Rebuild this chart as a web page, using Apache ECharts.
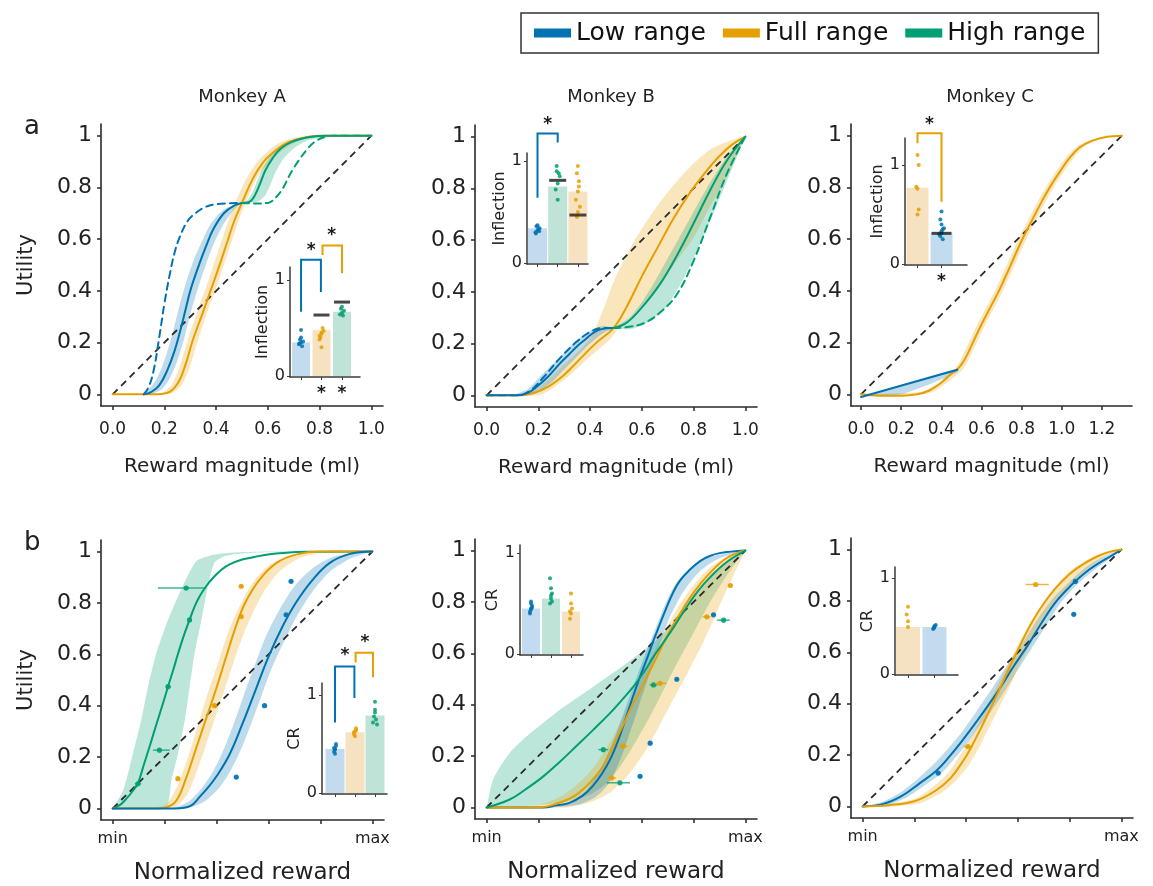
<!DOCTYPE html>
<html>
<head>
<meta charset="utf-8">
<script src="https://cdn.jsdelivr.net/npm/echarts@6/dist/echarts.min.js"></script>
<style>
html,body{margin:0;padding:0;background:#fff;}
#chart{width:1153px;height:886px;}
</style>
</head>
<body>
<div id="chart"></div>
<script>
// ---------- colours ----------
const COL = {low:'#0072B2', full:'#E69F00', high:'#009E73'};
const FILL = {low:'rgba(0,114,178,0.26)', full:'rgba(230,159,0,0.26)', high:'rgba(0,158,115,0.26)'};
const BARFILL = {low:'#c3dbee', full:'#f6e2c1', high:'#bfe3d6'};
const FONT = "'DejaVu Sans', sans-serif";

// ---------- axis ticks ----------
const unitTicks = [0,0.2,0.4,0.6,0.8,1];
const monkeyCTicks = [0,0.2,0.4,0.6,0.8,1.0,1.2];
const normLabels = [0,1];

// ---------- Monkey A, reward magnitude ----------
const diagA = [[0,0],[1,1]];
const lowA = [[0.12,0],[0.15,0.01],[0.18,0.035],[0.21,0.09],[0.24,0.17],[0.265,0.26],[0.28,0.32],[0.30,0.40],[0.33,0.49],[0.36,0.57],[0.39,0.64],[0.43,0.70],[0.47,0.73],[0.50,0.74]];
const lowDashA = [[0.12,0],[0.14,0.03],[0.16,0.10],[0.18,0.22],[0.20,0.35],[0.22,0.46],[0.24,0.55],[0.26,0.61],[0.29,0.67],[0.32,0.70],[0.36,0.725],[0.40,0.735],[0.50,0.74]];
const lowBandA_l = [[0.11,0],[0.14,0.02],[0.17,0.06],[0.20,0.13],[0.23,0.23],[0.255,0.33],[0.28,0.42],[0.31,0.51],[0.34,0.58],[0.38,0.66],[0.43,0.715],[0.50,0.74]];
const lowBandA_r = [[0.13,0],[0.16,0.005],[0.19,0.02],[0.22,0.06],[0.25,0.13],[0.275,0.21],[0.30,0.31],[0.33,0.41],[0.36,0.50],[0.39,0.58],[0.43,0.66],[0.47,0.715],[0.50,0.74]];
const fullA = [[0,0],[0.16,0],[0.21,0.005],[0.25,0.04],[0.28,0.11],[0.31,0.21],[0.35,0.32],[0.38,0.405],[0.41,0.49],[0.44,0.58],[0.47,0.67],[0.50,0.74],[0.54,0.83],[0.58,0.895],[0.62,0.935],[0.67,0.97],[0.73,0.99],[0.80,1],[1,1]];
const fullBandA_l = [[0.14,0],[0.19,0.005],[0.23,0.04],[0.26,0.11],[0.29,0.21],[0.33,0.33],[0.36,0.41],[0.39,0.50],[0.42,0.59],[0.45,0.68],[0.48,0.755],[0.52,0.84],[0.56,0.90],[0.60,0.94],[0.65,0.975],[0.71,0.993],[0.78,1]];
const fullBandA_r = [[0.18,0],[0.23,0.005],[0.27,0.04],[0.30,0.11],[0.33,0.21],[0.37,0.33],[0.40,0.41],[0.43,0.50],[0.46,0.59],[0.49,0.68],[0.52,0.755],[0.56,0.84],[0.60,0.89],[0.64,0.93],[0.69,0.965],[0.75,0.99],[0.82,1]];
const highA = [[0.50,0.74],[0.53,0.745],[0.55,0.77],[0.57,0.815],[0.59,0.865],[0.62,0.915],[0.65,0.95],[0.69,0.975],[0.75,0.993],[0.82,1],[1,1]];
const highDashA = [[0.50,0.74],[0.55,0.738],[0.60,0.74],[0.63,0.76],[0.66,0.80],[0.68,0.84],[0.70,0.875],[0.72,0.905],[0.75,0.945],[0.78,0.975],[0.82,0.995],[0.86,1],[1,1]];
const highBandA_l = [[0.50,0.74],[0.52,0.75],[0.54,0.78],[0.56,0.83],[0.58,0.875],[0.61,0.92],[0.65,0.96],[0.70,0.985],[0.78,1]];
const highBandA_r = [[0.50,0.74],[0.56,0.745],[0.59,0.77],[0.61,0.81],[0.63,0.86],[0.66,0.91],[0.70,0.95],[0.75,0.98],[0.82,0.997]];

// ---------- Monkey B, reward magnitude ----------
const diagB = [[0,0],[1,1]];
const lowB = [[0,0],[0.12,0],[0.16,0.01],[0.19,0.03],[0.24,0.075],[0.28,0.12],[0.32,0.16],[0.35,0.19],[0.38,0.215],[0.41,0.24],[0.44,0.255],[0.49,0.26]];
const lowDashB = [[0,0],[0.12,0],[0.17,0.02],[0.22,0.07],[0.28,0.14],[0.34,0.20],[0.40,0.245],[0.45,0.26],[0.49,0.26]];
const lowBandB_l = [[0.10,0],[0.16,0.025],[0.20,0.065],[0.25,0.115],[0.30,0.165],[0.35,0.215],[0.40,0.25],[0.45,0.268],[0.49,0.26]];
const lowBandB_r = [[0.14,0],[0.20,0.015],[0.25,0.05],[0.30,0.10],[0.35,0.15],[0.40,0.20],[0.45,0.24],[0.49,0.26]];
const fullB = [[0,0],[0.12,0],[0.18,0.008],[0.24,0.035],[0.30,0.08],[0.36,0.14],[0.42,0.20],[0.49,0.26],[0.54,0.34],[0.60,0.46],[0.66,0.57],[0.72,0.68],[0.78,0.775],[0.84,0.855],[0.90,0.925],[0.95,0.97],[1,1]];
const fullBandB_l = [[0,0],[0.12,0.003],[0.20,0.03],[0.30,0.12],[0.40,0.22],[0.45,0.33],[0.50,0.46],[0.567,0.59],[0.63,0.69],[0.696,0.78],[0.774,0.87],[0.864,0.95],[0.955,0.99],[1,1]];
const fullBandB_r = [[0,0],[0.20,0],[0.30,0.06],[0.40,0.15],[0.48,0.22],[0.515,0.265],[0.593,0.34],[0.67,0.43],[0.735,0.52],[0.80,0.61],[0.864,0.73],[0.93,0.846],[1,1]];
const highB = [[0.49,0.26],[0.54,0.28],[0.60,0.34],[0.67,0.43],[0.735,0.54],[0.80,0.665],[0.865,0.795],[0.93,0.91],[1,1]];
const highDashB = [[0.49,0.26],[0.55,0.265],[0.61,0.28],[0.67,0.32],[0.735,0.39],[0.80,0.52],[0.865,0.69],[0.93,0.86],[1,1]];
const highBandB_l = [[0.49,0.26],[0.55,0.30],[0.60,0.36],[0.65,0.44],[0.70,0.53],[0.75,0.62],[0.80,0.71],[0.85,0.80],[0.90,0.88],[0.95,0.95],[1,1]];
const highBandB_r = [[0.49,0.26],[0.55,0.255],[0.60,0.27],[0.65,0.30],[0.70,0.35],[0.75,0.43],[0.80,0.53],[0.85,0.64],[0.90,0.76],[0.95,0.88],[1,1]];

// ---------- Monkey C, reward magnitude ----------
const diagC = [[0,0],[1.3,1]];
const lowC = [[0,-0.01],[0.48,0.095]];
const lowBandC_l = [[0,-0.01],[0.48,0.10]];
const lowBandC_r = [[0,-0.01],[0.2,0.0],[0.48,0.085]];
const fullC = [[0,0],[0.1,-0.005],[0.2,-0.005],[0.28,0],[0.34,0.015],[0.40,0.045],[0.45,0.08],[0.49,0.105],[0.52,0.14],[0.557,0.20],[0.60,0.27],[0.65,0.345],[0.69,0.405],[0.74,0.49],[0.78,0.56],[0.81,0.61],[0.85,0.67],[0.90,0.745],[0.94,0.80],[0.99,0.86],[1.04,0.915],[1.09,0.955],[1.15,0.98],[1.22,0.995],[1.3,1]];
const fullBandC_l = [[0,0],[0.3,0.01],[0.38,0.04],[0.43,0.075],[0.47,0.10],[0.50,0.14],[0.537,0.20],[0.58,0.27],[0.63,0.345],[0.67,0.405],[0.72,0.49],[0.76,0.56],[0.79,0.61],[0.83,0.67],[0.88,0.745],[0.92,0.80],[0.97,0.86],[1.02,0.915],[1.07,0.955],[1.13,0.98],[1.2,0.995],[1.3,1]];
const fullBandC_r = [[0,-0.005],[0.3,0],[0.36,0.01],[0.42,0.04],[0.47,0.07],[0.51,0.10],[0.54,0.14],[0.577,0.20],[0.62,0.27],[0.67,0.345],[0.71,0.405],[0.76,0.49],[0.80,0.56],[0.83,0.61],[0.87,0.67],[0.92,0.745],[0.96,0.80],[1.01,0.86],[1.06,0.915],[1.11,0.955],[1.17,0.98],[1.24,0.995],[1.3,1]];

// ---------- Monkey A, normalized reward ----------
const diagD = [[0,0],[1,1]];
const highD = [[0,0],[0.03,0.015],[0.053,0.038],[0.075,0.065],[0.097,0.098],[0.12,0.17],[0.142,0.24],[0.16,0.30],[0.18,0.365],[0.20,0.43],[0.213,0.474],[0.232,0.535],[0.251,0.60],[0.273,0.67],[0.296,0.734],[0.315,0.785],[0.335,0.826],[0.36,0.865],[0.386,0.897],[0.42,0.93],[0.45,0.95],[0.49,0.966],[0.527,0.975],[0.58,0.986],[0.63,0.992],[0.745,0.999],[1,1]];
const highBandD_l = [[0,0],[0.04,0.07],[0.078,0.214],[0.11,0.344],[0.136,0.474],[0.168,0.604],[0.213,0.734],[0.27,0.865],[0.322,0.962],[0.373,0.984],[0.45,0.995],[0.6,1],[1,1]];
const highBandD_r = [[0,0],[0.10,0],[0.206,0.005],[0.226,0.109],[0.251,0.21],[0.277,0.339],[0.296,0.47],[0.315,0.60],[0.341,0.73],[0.367,0.865],[0.392,0.956],[0.424,0.979],[0.488,0.991],[0.6,0.997],[1,1]];
const fullD = [[0,0],[0.18,0],[0.21,0.005],[0.245,0.03],[0.28,0.11],[0.32,0.23],[0.36,0.35],[0.40,0.47],[0.44,0.60],[0.475,0.71],[0.51,0.80],[0.565,0.89],[0.63,0.955],[0.705,0.988],[0.80,1],[1,1]];
const fullBandD_l = [[0.16,0],[0.21,0.02],[0.25,0.09],[0.29,0.20],[0.33,0.33],[0.37,0.46],[0.41,0.58],[0.45,0.70],[0.49,0.79],[0.54,0.88],[0.60,0.945],[0.68,0.985],[0.78,1]];
const fullBandD_r = [[0.20,0],[0.25,0.01],[0.29,0.06],[0.33,0.16],[0.37,0.28],[0.41,0.40],[0.45,0.52],[0.49,0.64],[0.53,0.74],[0.58,0.84],[0.64,0.92],[0.72,0.975],[0.82,1]];
const lowD = [[0,0],[0.24,0],[0.30,0.01],[0.335,0.045],[0.37,0.085],[0.40,0.125],[0.45,0.21],[0.50,0.33],[0.55,0.46],[0.60,0.59],[0.655,0.71],[0.705,0.80],[0.77,0.89],[0.835,0.955],[0.91,0.99],[1,1]];
const lowBandD_l = [[0,0],[0.22,0],[0.29,0.025],[0.34,0.075],[0.39,0.15],[0.43,0.235],[0.47,0.34],[0.51,0.455],[0.55,0.565],[0.59,0.67],[0.64,0.77],[0.70,0.865],[0.77,0.935],[0.85,0.98],[1,1]];
const lowBandD_r = [[0,0],[0.28,0],[0.35,0.025],[0.41,0.08],[0.45,0.14],[0.49,0.22],[0.53,0.32],[0.57,0.43],[0.61,0.54],[0.66,0.65],[0.71,0.75],[0.77,0.845],[0.84,0.925],[0.92,0.975],[1,1]];
// choice points: [x, utility, x low, x high]
const markD_high = [[0.097,0.096,0.085,0.11],[0.18,0.227,0.155,0.22],[0.213,0.474,0.205,0.225],[0.296,0.734,0.29,0.305],[0.283,0.858,0.174,0.36]];
const markD_full = [[0.251,0.116,0.245,0.26],[0.392,0.40,0.385,0.40],[0.495,0.747,0.488,0.503],[0.495,0.865,0.488,0.503]];
const markD_low = [[0.476,0.122,0.47,0.483],[0.585,0.40,0.578,0.592],[0.668,0.754,0.66,0.675],[0.687,0.884,0.68,0.695]];

// ---------- Monkey B, normalized reward ----------
const diagE = [[0,0],[1,1]];
const highE = [[0,0],[0.089,0.031],[0.15,0.07],[0.218,0.12],[0.28,0.175],[0.348,0.24],[0.41,0.30],[0.477,0.367],[0.52,0.415],[0.567,0.47],[0.61,0.53],[0.645,0.587],[0.685,0.645],[0.722,0.70],[0.76,0.76],[0.80,0.82],[0.84,0.87],[0.877,0.91],[0.915,0.945],[0.955,0.974],[1,1]];
const highBandE_l = [[0,0],[0.025,0.109],[0.089,0.212],[0.154,0.276],[0.283,0.38],[0.412,0.47],[0.541,0.561],[0.67,0.664],[0.774,0.78],[0.877,0.91],[0.94,0.97],[1,1]];
const highBandE_r = [[0,0],[0.15,0.005],[0.30,0.02],[0.40,0.05],[0.47,0.10],[0.53,0.18],[0.59,0.28],[0.65,0.39],[0.72,0.53],[0.80,0.68],[0.87,0.81],[0.94,0.92],[1,1]];
const fullE = [[0,0],[0.2,0],[0.28,0.018],[0.34,0.045],[0.386,0.083],[0.42,0.12],[0.45,0.16],[0.475,0.21],[0.50,0.264],[0.527,0.32],[0.554,0.38],[0.59,0.45],[0.62,0.51],[0.65,0.57],[0.683,0.638],[0.715,0.70],[0.748,0.755],[0.785,0.815],[0.826,0.87],[0.865,0.915],[0.90,0.95],[0.935,0.975],[0.968,0.99],[1,1]];
const fullBandE_l = [[0,0],[0.2,0.01],[0.3,0.05],[0.4,0.14],[0.48,0.26],[0.55,0.40],[0.62,0.55],[0.70,0.71],[0.78,0.84],[0.87,0.94],[1,1]];
const fullBandE_r = [[0,0],[0.3,0],[0.4,0.02],[0.48,0.06],[0.55,0.13],[0.62,0.23],[0.70,0.38],[0.78,0.53],[0.85,0.67],[0.92,0.83],[1,1]];
const lowE = [[0,0],[0.22,0],[0.27,0.008],[0.32,0.018],[0.37,0.045],[0.41,0.083],[0.445,0.13],[0.477,0.186],[0.51,0.265],[0.54,0.354],[0.565,0.43],[0.593,0.509],[0.62,0.58],[0.645,0.65],[0.67,0.715],[0.696,0.78],[0.72,0.835],[0.748,0.884],[0.785,0.925],[0.826,0.96],[0.86,0.978],[0.90,0.99],[1,1]];
const lowBandE_l = [[0,0],[0.2,0],[0.3,0.012],[0.38,0.06],[0.44,0.15],[0.49,0.26],[0.53,0.37],[0.57,0.48],[0.61,0.59],[0.65,0.69],[0.69,0.79],[0.73,0.87],[0.79,0.935],[0.86,0.975],[1,1]];
const lowBandE_r = [[0,0],[0.25,0],[0.35,0.01],[0.42,0.04],[0.47,0.09],[0.51,0.17],[0.55,0.28],[0.59,0.40],[0.63,0.52],[0.67,0.64],[0.71,0.745],[0.76,0.84],[0.82,0.915],[0.89,0.965],[1,1]];
const markE_low = [[0.593,0.121,0.587,0.6],[0.632,0.25,0.625,0.64],[0.735,0.499,0.728,0.742],[0.877,0.75,0.87,0.884]];
const markE_high = [[0.515,0.096,0.464,0.554],[0.451,0.225,0.432,0.47],[0.645,0.477,0.63,0.66],[0.916,0.729,0.89,0.94]];
const markE_full = [[0.483,0.115,0.47,0.5],[0.528,0.238,0.505,0.545],[0.67,0.483,0.65,0.695],[0.851,0.742,0.835,0.865],[0.942,0.864,0.935,0.95]];

// ---------- Monkey C, normalized reward ----------
const diagF = [[0,0],[1,1]];
const lowF = [[0,0],[0.08,0.01],[0.15,0.04],[0.22,0.09],[0.286,0.14],[0.34,0.20],[0.388,0.26],[0.44,0.33],[0.49,0.40],[0.54,0.475],[0.58,0.54],[0.64,0.63],[0.695,0.72],[0.75,0.80],[0.81,0.865],[0.86,0.91],[0.91,0.945],[0.96,0.975],[1,1]];
const lowBandF_l = [[0,0],[0.07,0.015],[0.14,0.05],[0.21,0.105],[0.27,0.16],[0.33,0.225],[0.38,0.285],[0.43,0.355],[0.48,0.43],[0.53,0.505],[0.57,0.565],[0.63,0.655],[0.68,0.735],[0.74,0.815],[0.80,0.875],[0.85,0.92],[0.90,0.955],[0.95,0.98],[1,1]];
const lowBandF_r = [[0,0],[0.09,0.005],[0.16,0.03],[0.23,0.075],[0.30,0.125],[0.35,0.18],[0.40,0.24],[0.45,0.31],[0.50,0.375],[0.55,0.45],[0.59,0.515],[0.65,0.61],[0.71,0.705],[0.76,0.785],[0.82,0.855],[0.87,0.90],[0.92,0.94],[0.97,0.975],[1,1]];
const fullF = [[0,0],[0.1,0.005],[0.2,0.02],[0.28,0.06],[0.34,0.11],[0.39,0.18],[0.414,0.22],[0.46,0.31],[0.503,0.40],[0.54,0.48],[0.567,0.54],[0.61,0.63],[0.656,0.72],[0.70,0.79],[0.746,0.85],[0.80,0.905],[0.848,0.94],[0.90,0.97],[0.95,0.99],[1,1]];
const fullBandF_l = [[0,0],[0.1,0.01],[0.2,0.03],[0.27,0.075],[0.33,0.13],[0.38,0.205],[0.42,0.27],[0.46,0.35],[0.50,0.43],[0.54,0.51],[0.59,0.61],[0.64,0.70],[0.69,0.78],[0.74,0.85],[0.80,0.915],[0.86,0.955],[0.92,0.985],[1,1]];
const fullBandF_r = [[0,0],[0.12,0],[0.22,0.012],[0.30,0.05],[0.36,0.10],[0.41,0.16],[0.45,0.23],[0.49,0.31],[0.53,0.39],[0.57,0.47],[0.61,0.56],[0.66,0.65],[0.71,0.74],[0.76,0.81],[0.82,0.88],[0.88,0.935],[0.94,0.975],[1,1]];
const markF_full = [[0.669,0.864,0.63,0.72],[0.407,0.233,0.39,0.425]];
const markF_low = [[0.292,0.13,0.285,0.3],[0.816,0.748,0.81,0.823],[0.822,0.876,0.815,0.83]];

// ---------- insets: inflection points and CR ----------
const inflA_groups = ['low','full','high'];
const inflA_bars = [0.35,0.48,0.67];
const inflA_dots_low = [[0.9,0.33],[1.0,0.35],[1.1,0.36],[0.95,0.38],[1.05,0.31],[1.0,0.40],[0.92,0.34],[1.0,0.48]];
const inflA_dots_full = [[1.9,0.42],[2.0,0.45],[2.1,0.47],[1.95,0.40],[2.05,0.50],[2.0,0.44],[1.9,0.38],[2.0,0.30]];
const inflA_dots_high = [[2.9,0.64],[3.0,0.66],[3.1,0.68],[2.95,0.70],[3.05,0.63],[3.0,0.72]];
const inflA_model = [[2,0.635],[3,0.77]];
const inflA_brackets_low = [[1,1.97,1.21,0.67,0.875]];
const inflA_brackets_full = [[2.05,3,1.36,1.26,1.07]];
const inflA_stars = [[1.5,1.35],[2.5,1.5],[2,-0.14],[3,-0.14]];

const inflB_groups = ['low','high','full'];
const inflB_bars = [0.34,0.75,0.70];
const inflB_dots_low = [[0.9,0.30],[1.0,0.32],[1.1,0.34],[0.95,0.36],[1.05,0.33],[0.92,0.29],[1.0,0.37],[1.08,0.31]];
const inflB_dots_high = [[1.95,0.95],[2.05,0.88],[2.0,0.78],[1.9,0.72],[2.0,0.62],[2.1,0.85],[1.95,0.90]];
const inflB_dots_full = [[3.0,0.95],[2.95,0.88],[3.05,0.80],[3.0,0.70],[2.9,0.62],[3.1,0.55],[3.0,0.50],[2.95,0.45],[3.05,0.75]];
const inflB_model = [[2,0.81],[3,0.47]];
const inflB_brackets_low = [[1,2,1.27,0.64,1.18]];
const inflB_stars = [[1.5,1.4]];

const inflC_groups = ['full','low'];
const inflC_bars = [0.77,0.31];
const inflC_dots_full = [[1.0,1.10],[1.05,1.0],[0.95,0.78],[1.0,0.76],[1.0,0.5],[1.05,0.55]];
const inflC_dots_low = [[2.0,0.31],[1.95,0.28],[2.05,0.35],[2.0,0.40],[1.95,0.45],[2.05,0.25],[2.0,0.33],[1.9,0.30],[2.1,0.36],[2.0,0.53]];
const inflC_model = [[2,0.31]];
const inflC_brackets_full = [[1,2,1.32,1.22,0.63]];
const inflC_stars = [[1.5,1.45],[2,-0.14]];

const crD_groups = ['low','full','high'];
const crD_bars = [0.45,0.62,0.79];
const crD_dots_low = [[0.95,0.42],[1.0,0.45],[1.05,0.48],[1.0,0.40],[0.95,0.46],[1.05,0.50],[1.0,0.44]];
const crD_dots_full = [[1.95,0.60],[2.0,0.63],[2.05,0.66],[2.0,0.58],[1.95,0.62],[2.05,0.64]];
const crD_dots_high = [[2.95,0.78],[3.0,0.82],[3.05,0.75],[2.9,0.72],[3.0,0.85],[3.1,0.70],[3.0,0.93]];
const crD_brackets_low = [[1,1.97,1.29,0.72,0.97]];
const crD_brackets_full = [[2.03,2.9,1.43,1.33,1.18]];
const crD_stars = [[1.5,1.44],[2.5,1.58]];

const crE_groups = ['low','high','full'];
const crE_bars = [0.45,0.55,0.42];
const crE_dots_low = [[0.95,0.40],[1.0,0.45],[1.05,0.48],[1.0,0.50],[0.95,0.42],[1.05,0.46],[1.0,0.52],[1.0,0.44]];
const crE_dots_high = [[1.95,0.50],[2.0,0.55],[2.05,0.60],[2.0,0.65],[1.95,0.75],[2.05,0.52],[2.0,0.58]];
const crE_dots_full = [[2.95,0.35],[3.0,0.40],[3.05,0.45],[3.0,0.50],[3.0,0.60],[2.95,0.42]];

const crF_groups = ['full','low'];
const crF_bars = [0.49,0.49];
const crF_dots_full = [[1.0,0.49],[1.0,0.55],[0.95,0.62],[1.0,0.70]];
const crF_dots_low = [[1.95,0.47],[2.0,0.49],[2.05,0.51],[2.0,0.50],[1.98,0.48]];

// ---------- layout ----------
const grids = [
  {left:101, top:124, width:282, height:282},
  {left:475, top:125, width:282, height:282},
  {left:851, top:124, width:281, height:282},
  {left:101, top:540, width:283, height:280},
  {left:475, top:539, width:282, height:280},
  {left:851, top:538, width:282, height:280},
  {left:290, top:267, width:70, height:110},
  {left:527, top:153, width:61, height:111},
  {left:905, top:138, width:62, height:127},
  {left:322, top:683, width:65, height:111},
  {left:520, top:545, width:63, height:110},
  {left:895, top:567, width:63, height:108}
];

const AXC = '#2a2a2a';
function mainX(gi, min, max, ticks, labels, fmt, name, gap, nameSize, labelSize, margin){
  return {type:'value', gridIndex:gi, min, max,
    axisLine:{show:true, onZero:false, lineStyle:{color:AXC, width:1.6}},
    axisTick:{show:true, length:4, customValues:ticks, lineStyle:{color:AXC, width:1.5}},
    axisLabel:{customValues:labels, formatter:fmt, fontSize:labelSize, fontFamily:FONT, color:'#222', margin},
    splitLine:{show:false},
    name, nameLocation:'middle', nameGap:gap, nameTextStyle:{fontSize:nameSize, fontFamily:FONT, color:'#222'}};
}
function mainY(gi, name){
  return {type:'value', gridIndex:gi, min:-0.045, max:1.045,
    axisLine:{show:true, onZero:false, lineStyle:{color:AXC, width:1.6}},
    axisTick:{show:true, length:4, customValues:unitTicks, lineStyle:{color:AXC, width:1.5}},
    axisLabel:{customValues:unitTicks, fontSize:22, fontFamily:FONT, color:'#222', margin:9},
    splitLine:{show:false},
    name: name || '', nameLocation:'middle', nameGap:64, nameTextStyle:{fontSize:21, fontFamily:FONT, color:'#222'}};
}
function insetX(gi, min, max, n){
  const t = n === 3 ? [1,2,3] : [1,2];
  return {type:'value', gridIndex:gi, min, max,
    axisLine:{show:true, onZero:false, lineStyle:{color:'#3a3a3a', width:1.5}},
    axisTick:{show:true, length:3, customValues:t, lineStyle:{color:'#3a3a3a'}},
    axisLabel:{show:false}, splitLine:{show:false}};
}
function insetY(gi, max, name, gap){
  return {type:'value', gridIndex:gi, min:-0.01, max,
    axisLine:{show:true, onZero:false, lineStyle:{color:'#3a3a3a', width:1.5}},
    axisTick:{show:true, length:3, customValues:[0,1], lineStyle:{color:'#3a3a3a'}},
    axisLabel:{customValues:[0,1], fontSize:16, fontFamily:FONT, color:'#222', margin:5},
    splitLine:{show:false},
    name, nameLocation:'middle', nameGap:gap, nameTextStyle:{fontSize:16, fontFamily:FONT, color:'#222'}};
}

const fixed1 = v => v.toFixed(1);
const minMax = v => (v === 0 ? 'min' : 'max');
const xAxes = [
  mainX(0, -0.045, 1.045, unitTicks, unitTicks, fixed1, 'Reward magnitude (ml)', 51, 20, 17, 15),
  mainX(1, -0.045, 1.045, unitTicks, unitTicks, fixed1, 'Reward magnitude (ml)', 51, 20, 17, 15),
  mainX(2, -0.05, 1.35, monkeyCTicks, monkeyCTicks, fixed1, 'Reward magnitude (ml)', 51, 20, 17, 15),
  mainX(3, -0.045, 1.045, unitTicks, normLabels, minMax, 'Normalized reward', 42, 23, 16, 11),
  mainX(4, -0.045, 1.045, unitTicks, normLabels, minMax, 'Normalized reward', 42, 23, 16, 11),
  mainX(5, -0.045, 1.045, unitTicks, normLabels, minMax, 'Normalized reward', 42, 23, 16, 11),
  insetX(6, 0.46, 3.88, 3),
  insetX(7, 0.48, 3.5, 3),
  insetX(8, 0.48, 3.06, 2),
  insetX(9, 0.35, 3.6, 3),
  insetX(10, 0.45, 3.6, 3),
  insetX(11, 0.51, 2.89, 2)
];
const yAxes = [
  mainY(0, 'Utility'), mainY(1), mainY(2), mainY(3, 'Utility'), mainY(4), mainY(5),
  insetY(6, 1.135, 'Inflection', 17),
  insetY(7, 1.078, 'Inflection', 19),
  insetY(8, 1.273, 'Inflection', 18),
  insetY(9, 1.122, 'CR', 16),
  insetY(10, 1.079, 'CR', 14),
  insetY(11, 1.115, 'CR', 14)
];

// ---------- series builders ----------
const series = [];
const NAMES = {low:'Low range', full:'Full range', high:'High range'};
function curve(gi, pts, key, dashed){
  series.push({type:'line', name: dashed ? undefined : NAMES[key], xAxisIndex:gi, yAxisIndex:gi, data:pts,
    smooth:0.4, showSymbol:false, symbol:'none', silent:true, z:3,
    lineStyle:{color:COL[key], width:2, type: dashed ? [7,5] : 'solid', cap:'round', join:'round'}, itemStyle:{color:COL[key]}});
}
function diag(gi, pts){
  series.push({type:'line', xAxisIndex:gi, yAxisIndex:gi, data:pts, showSymbol:false, symbol:'none', silent:true, z:3,
    lineStyle:{color:'#2a2a2a', width:1.8, type:[7,5]}});
}
function band(gi, left, right, key){
  const poly = left.concat(right.slice().reverse());
  series.push({type:'custom', xAxisIndex:gi, yAxisIndex:gi, data:[[0,0]], silent:true, z:1,
    renderItem:(p, api) => ({type:'polygon', shape:{points: poly.map(q => api.coord(q)), smooth:0.25},
      style:{fill: FILL[key]}})});
}
function marks(gi, rows, key){
  series.push({type:'custom', xAxisIndex:gi, yAxisIndex:gi, data:rows, silent:true, z:4, encode:{x:0, y:1},
    renderItem:(p, api) => {
      const y = api.value(1);
      const c = api.coord([api.value(0), y]);
      const a = api.coord([api.value(2), y]);
      const b = api.coord([api.value(3), y]);
      return {type:'group', children:[
        {type:'line', shape:{x1:a[0], y1:a[1], x2:b[0], y2:b[1]}, style:{stroke:COL[key], lineWidth:1.5, opacity:0.75}},
        {type:'circle', shape:{cx:c[0], cy:c[1], r:2.6}, style:{fill:COL[key], opacity:0.9}}
      ]};
    }});
}
function insetBars(gi, groups, vals, width){
  series.push({type:'bar', xAxisIndex:gi, yAxisIndex:gi, barWidth:width, silent:true, z:2,
    data: vals.map((v, i) => ({value:[i + 1, v], itemStyle:{color: BARFILL[groups[i]]}}))});
}
function dots(gi, pts, key){
  series.push({type:'scatter', xAxisIndex:gi, yAxisIndex:gi, data:pts, symbolSize:4, silent:true, z:3,
    itemStyle:{color:COL[key], opacity:0.85}});
}
function modelLines(gi, pts, w){
  series.push({type:'scatter', xAxisIndex:gi, yAxisIndex:gi, data:pts, symbol:'rect', symbolSize:[w, 3], silent:true, z:4,
    itemStyle:{color:'#1a1a1a'}});
}
function brackets(gi, rows, key){
  series.push({type:'custom', xAxisIndex:gi, yAxisIndex:gi, data:rows, silent:true, z:4,
    renderItem:(p, api) => {
      const x1 = api.value(0), x2 = api.value(1), top = api.value(2), yl = api.value(3), yr = api.value(4);
      return {type:'polyline', shape:{points:[api.coord([x1, yl]), api.coord([x1, top]), api.coord([x2, top]), api.coord([x2, yr])]},
        style:{stroke:COL[key], lineWidth:2, fill:'none'}};
    }});
}
function stars(gi, pts){
  series.push({type:'custom', xAxisIndex:gi, yAxisIndex:gi, data:pts, silent:true, z:5, encode:{x:0, y:1},
    renderItem:(p, api) => {
      const c = api.coord([api.value(0), api.value(1)]);
      return {type:'text', style:{text:'*', x:c[0], y:c[1] + 4, align:'center', verticalAlign:'middle',
        fontSize:17, fontWeight:'bold', fontFamily:FONT, fill:'#1a1a1a'}};
    }});
}

// ---------- Monkey A, magnitude ----------
band(0, lowBandA_l, lowBandA_r, 'low');
band(0, fullBandA_l, fullBandA_r, 'full');
band(0, highBandA_l, highBandA_r, 'high');
diag(0, diagA);
curve(0, lowDashA, 'low', true);
curve(0, highDashA, 'high', true);
curve(0, fullA, 'full');
curve(0, lowA, 'low');
curve(0, highA, 'high');

// ---------- Monkey B, magnitude ----------
band(1, fullBandB_l, fullBandB_r, 'full');
band(1, highBandB_l, highBandB_r, 'high');
band(1, lowBandB_l, lowBandB_r, 'low');
diag(1, diagB);
curve(1, lowDashB, 'low', true);
curve(1, highDashB, 'high', true);
curve(1, fullB, 'full');
curve(1, lowB, 'low');
curve(1, highB, 'high');

// ---------- Monkey C, magnitude ----------
band(2, fullBandC_l, fullBandC_r, 'full');
band(2, lowBandC_l, lowBandC_r, 'low');
diag(2, diagC);
curve(2, fullC, 'full');
curve(2, lowC, 'low');

// ---------- Monkey A, normalized ----------
band(3, highBandD_l, highBandD_r, 'high');
band(3, fullBandD_l, fullBandD_r, 'full');
band(3, lowBandD_l, lowBandD_r, 'low');
diag(3, diagD);
curve(3, highD, 'high');
curve(3, fullD, 'full');
curve(3, lowD, 'low');
marks(3, markD_high, 'high');
marks(3, markD_full, 'full');
marks(3, markD_low, 'low');

// ---------- Monkey B, normalized ----------
band(4, highBandE_l, highBandE_r, 'high');
band(4, fullBandE_l, fullBandE_r, 'full');
band(4, lowBandE_l, lowBandE_r, 'low');
diag(4, diagE);
curve(4, lowE, 'low');
curve(4, fullE, 'full');
curve(4, highE, 'high');
marks(4, markE_low, 'low');
marks(4, markE_high, 'high');
marks(4, markE_full, 'full');

// ---------- Monkey C, normalized ----------
band(5, lowBandF_l, lowBandF_r, 'low');
band(5, fullBandF_l, fullBandF_r, 'full');
diag(5, diagF);
curve(5, lowF, 'low');
curve(5, fullF, 'full');
marks(5, markF_full, 'full');
marks(5, markF_low, 'low');

// ---------- insets ----------
insetBars(6, inflA_groups, inflA_bars, 18);
dots(6, inflA_dots_low, 'low'); dots(6, inflA_dots_full, 'full'); dots(6, inflA_dots_high, 'high');
modelLines(6, inflA_model, 16);
brackets(6, inflA_brackets_low, 'low'); brackets(6, inflA_brackets_full, 'full');
stars(6, inflA_stars);

insetBars(7, inflB_groups, inflB_bars, 19);
dots(7, inflB_dots_low, 'low'); dots(7, inflB_dots_high, 'high'); dots(7, inflB_dots_full, 'full');
modelLines(7, inflB_model, 17);
brackets(7, inflB_brackets_low, 'low');
stars(7, inflB_stars);

insetBars(8, inflC_groups, inflC_bars, 22);
dots(8, inflC_dots_full, 'full'); dots(8, inflC_dots_low, 'low');
modelLines(8, inflC_model, 20);
brackets(8, inflC_brackets_full, 'full');
stars(8, inflC_stars);

insetBars(9, crD_groups, crD_bars, 19);
dots(9, crD_dots_low, 'low'); dots(9, crD_dots_full, 'full'); dots(9, crD_dots_high, 'high');
brackets(9, crD_brackets_low, 'low'); brackets(9, crD_brackets_full, 'full');
stars(9, crD_stars);

insetBars(10, crE_groups, crE_bars, 18);
dots(10, crE_dots_low, 'low'); dots(10, crE_dots_high, 'high'); dots(10, crE_dots_full, 'full');

insetBars(11, crF_groups, crF_bars, 24);
dots(11, crF_dots_full, 'full'); dots(11, crF_dots_low, 'low');

// ---------- titles and panel letters ----------
const txt = (x, y, text, size, align) => ({type:'text', x, y, silent:true,
  style:{text, fontSize:size, fontFamily:FONT, fill:'#222', align: align || 'center', verticalAlign:'middle'}});
const graphics = [
  txt(242, 97, 'Monkey A', 18),
  txt(611, 97, 'Monkey B', 18),
  txt(990, 97, 'Monkey C', 18),
  txt(24, 127, 'a', 26, 'left'),
  txt(24, 543, 'b', 26, 'left')
];

const chart = echarts.init(document.getElementById('chart'));
chart.setOption({
  animation:false,
  backgroundColor:'#fff',
  legend:{data:['Low range','Full range','High range'], left:521, top:13, icon:'rect',
    itemWidth:37, itemHeight:9, itemGap:17, padding:[7,13,7,13],
    borderColor:'#333', borderWidth:1.5, selectedMode:false,
    textStyle:{fontSize:25, fontFamily:FONT, color:'#111', lineHeight:26}},
  grid: grids,
  xAxis: xAxes,
  yAxis: yAxes,
  series,
  graphic: graphics
});
</script>
</body>
</html>
